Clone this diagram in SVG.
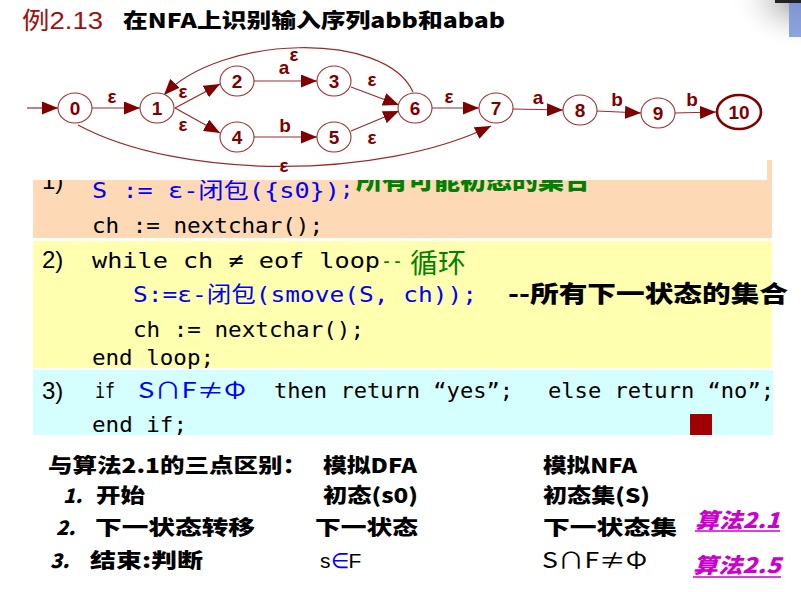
<svg xmlns="http://www.w3.org/2000/svg" width="801" height="592" viewBox="0 0 801 592">
<defs>
<marker id="ah" markerUnits="userSpaceOnUse" markerWidth="17" markerHeight="13" refX="16" refY="6.5" orient="auto">
<path d="M0,0 L16,6.5 L0,13 z" fill="#800000"/>
</marker>
<radialGradient id="sh" cx="1" cy="0" r="1">
<stop offset="0" stop-color="#9a9a9a"/>
<stop offset="1" stop-color="#ffffff" stop-opacity="0"/>
</radialGradient>
<style>
.node ellipse{fill:#fff;stroke:#a03030;stroke-width:1.1}
.node text{font-family:"Liberation Sans",Arial,sans-serif;font-weight:bold;font-size:19px;fill:#800000;text-anchor:middle}
.edge{fill:none;stroke:#9a2a2a;stroke-width:1.2;marker-end:url(#ah)}
.lbl{font-family:"Liberation Sans",Arial,sans-serif;font-weight:bold;font-size:19px;fill:#800000;text-anchor:middle}
.code{font-family:"DejaVu Sans Mono","Noto Sans CJK SC",monospace;font-size:22px}
.num{font-family:"Liberation Sans",Arial,sans-serif;font-size:24px;fill:#000}
.cjkb{font-family:"Noto Sans CJK SC",sans-serif;font-weight:900}
.low{font-family:"Noto Sans CJK SC",sans-serif;font-weight:900;font-size:20px;fill:#000}
.lat{font-family:"Liberation Sans",Arial,sans-serif;font-size:21px;fill:#000}
.sym{font-family:"Noto Sans CJK SC",sans-serif;font-size:22px}
.blue{fill:#0000ff}
.green{fill:#008000}
.mag{font-family:"Noto Sans CJK SC",sans-serif;font-weight:900;font-size:21px;fill:#cc00cc;font-style:italic}
</style>
</defs>
<rect width="801" height="592" fill="#fff"/>
<!-- corner logo fragment -->
<rect x="730" y="0" width="71" height="50" fill="url(#sh)"/>
<rect x="775" y="0" width="26" height="3" fill="#222"/>
<rect x="789" y="3" width="12" height="34" fill="#6f8fd8" opacity="0.8"/>
<!-- title -->
<text x="22" y="29" font-family="Liberation Sans,'Noto Sans CJK SC',sans-serif" font-size="24" fill="#a01010" textLength="81" lengthAdjust="spacingAndGlyphs">例2.13</text>
<text x="123" y="28" class="cjkb" font-size="20" textLength="382" lengthAdjust="spacingAndGlyphs">在NFA上识别输入序列abb和abab</text>
<!-- code boxes -->
<rect x="33" y="160" width="739" height="78" fill="#fdd9b5"/>
<rect x="33" y="241" width="739" height="127" fill="#ffffb0"/>
<rect x="33" y="370" width="740" height="65" fill="#d5ffff"/>
<rect x="690" y="414" width="22" height="21" fill="#a00000"/>
<g id="code">
<text x="42" y="189" class="num">1)</text>
<text x="92" y="198" class="code blue" font-size="23" textLength="248" lengthAdjust="spacingAndGlyphs">S :=  ε-闭包({s0})</text>
<text x="340" y="196" class="code blue">;</text>
<text x="356" y="189" class="cjkb green" font-size="24" textLength="234" lengthAdjust="spacingAndGlyphs">所有可能初态的集合</text>
<text x="92" y="233" class="code" textLength="231" lengthAdjust="spacingAndGlyphs">ch := nextchar();</text>
<text x="42" y="268" class="num">2)</text>
<text x="92" y="268" class="code" textLength="288" lengthAdjust="spacingAndGlyphs">while  ch ≠ eof loop</text>
<text x="381" y="268" class="code green" textLength="22" lengthAdjust="spacingAndGlyphs">--</text>
<text x="410" y="273" font-family="'Noto Sans CJK SC',sans-serif" font-size="27" class="green" textLength="56" lengthAdjust="spacingAndGlyphs">循环</text>
<text x="133" y="302" class="code blue" textLength="344" lengthAdjust="spacingAndGlyphs">S:=ε-闭包(smove(S, ch));</text>
<text x="508" y="302" class="cjkb" font-size="23" textLength="280" lengthAdjust="spacingAndGlyphs">--所有下一状态的集合</text>
<text x="133" y="337" class="code" textLength="231" lengthAdjust="spacingAndGlyphs">ch := nextchar();</text>
<text x="92" y="365" class="code" textLength="122" lengthAdjust="spacingAndGlyphs">end loop;</text>
<text x="42" y="399" class="num">3)</text>
<text x="95" y="398" class="code" textLength="20" lengthAdjust="spacingAndGlyphs">if</text>
<text x="138" y="398" class="sym blue" font-size="23" textLength="108" lengthAdjust="spacingAndGlyphs">S∩F≠Φ</text>
<text x="274" y="398" class="code" textLength="239" lengthAdjust="spacingAndGlyphs">then return “yes”;</text>
<text x="548" y="398" class="code" textLength="226" lengthAdjust="spacingAndGlyphs">else return “no”;</text>
<text x="92" y="432" class="code" textLength="95" lengthAdjust="spacingAndGlyphs">end if;</text>
</g>
<!-- white cover of NFA area -->
<rect x="0" y="40" width="767" height="140" fill="#fff"/>
<!-- NFA -->
<g id="connectors">
<path class="edge" d="M27 108 L58 108"/>
<path class="edge" d="M92 108 L140 108"/>
<path class="edge" d="M175 108 L220 84"/>
<path class="edge" d="M175 108 L220 133"/>
<path class="edge" d="M254 81 L317 81"/>
<path class="edge" d="M254 137 L317 137"/>
<path class="edge" d="M351 87 L399 105"/>
<path class="edge" d="M351 131 L399 111"/>
<path class="edge" d="M432 108 L479 108"/>
<path class="edge" d="M513 109 L563 110"/>
<path class="edge" d="M597 111 L641 113"/>
<path class="edge" d="M675 113 L716 112"/>
<path class="edge" d="M413 92 C385 30, 220 35, 164 95"/>
<path class="edge" d="M78 125 C180 180, 380 180, 491 126"/>
<text class="lbl" x="112" y="103">ε</text>
<text class="lbl" x="183" y="98">ε</text>
<text class="lbl" x="183" y="131">ε</text>
<text class="lbl" x="284" y="74">a</text>
<text class="lbl" x="294" y="61">ε</text>
<text class="lbl" x="285" y="132">b</text>
<text class="lbl" x="372" y="86">ε</text>
<text class="lbl" x="372" y="144">ε</text>
<text class="lbl" x="449" y="103">ε</text>
<text class="lbl" x="284" y="172">ε</text>
<text class="lbl" x="538" y="104">a</text>
<text class="lbl" x="617" y="106">b</text>
<text class="lbl" x="692" y="106">b</text>
</g>
<g id="n0" class="node"><ellipse cx="75" cy="108" rx="17" ry="15"/><text x="75" y="115">0</text></g>
<g id="n1" class="node"><ellipse cx="157" cy="108" rx="17" ry="15"/><text x="157" y="115">1</text></g>
<g id="n2" class="node"><ellipse cx="237" cy="81" rx="17" ry="15"/><text x="237" y="88">2</text></g>
<g id="n3" class="node"><ellipse cx="334" cy="81" rx="17" ry="15"/><text x="334" y="88">3</text></g>
<g id="n4" class="node"><ellipse cx="237" cy="137" rx="17" ry="15"/><text x="237" y="144">4</text></g>
<g id="n5" class="node"><ellipse cx="334" cy="137" rx="17" ry="15"/><text x="334" y="144">5</text></g>
<g id="n6" class="node"><ellipse cx="415" cy="108" rx="17" ry="15"/><text x="415" y="115">6</text></g>
<g id="n7" class="node"><ellipse cx="496" cy="108" rx="17" ry="15"/><text x="496" y="115">7</text></g>
<g id="n8" class="node"><ellipse cx="580" cy="110" rx="17" ry="15"/><text x="580" y="117">8</text></g>
<g id="n9" class="node"><ellipse cx="658" cy="113" rx="17" ry="15"/><text x="658" y="120">9</text></g>
<g id="n10" class="node"><ellipse cx="739" cy="112" rx="22" ry="17" style="stroke:#800000;stroke-width:2.6"/><text x="739" y="119">10</text></g>
<!-- lower comparison -->
<g id="compare">
<text x="48" y="473" class="low" textLength="259" lengthAdjust="spacingAndGlyphs">与算法2.1的三点区别：</text>
<text x="323" y="473" class="low" textLength="94" lengthAdjust="spacingAndGlyphs">模拟DFA</text>
<text x="543" y="473" class="low" textLength="94" lengthAdjust="spacingAndGlyphs">模拟NFA</text>
<text x="63" y="503" class="low" font-style="italic">1.</text>
<text x="96" y="503" class="low" textLength="49" lengthAdjust="spacingAndGlyphs">开始</text>
<text x="323" y="503" class="low" textLength="95" lengthAdjust="spacingAndGlyphs">初态(s0)</text>
<text x="543" y="503" class="low" textLength="107" lengthAdjust="spacingAndGlyphs">初态集(S)</text>
<text x="56" y="535" class="low" font-style="italic">2.</text>
<text x="95" y="535" class="low" textLength="160" lengthAdjust="spacingAndGlyphs">下一状态转移</text>
<text x="315" y="535" class="low" textLength="103" lengthAdjust="spacingAndGlyphs">下一状态</text>
<text x="543" y="535" class="low" textLength="134" lengthAdjust="spacingAndGlyphs">下一状态集</text>
<text x="50" y="568" class="low" font-style="italic">3.</text>
<text x="90" y="568" class="low" textLength="113" lengthAdjust="spacingAndGlyphs">结束:判断</text>
<text x="320" y="568" class="lat" font-size="22">s<tspan class="blue">∈</tspan>F</text>
<text x="542" y="568" class="sym" textLength="105" lengthAdjust="spacingAndGlyphs">S∩F≠Φ</text>
<text x="695" y="528" class="mag" textLength="85" lengthAdjust="spacingAndGlyphs">算法2.1</text>
<line x1="695" y1="531" x2="780" y2="531" stroke="#cc00cc" stroke-width="1.5"/>
<text x="693" y="573" class="mag" textLength="88" lengthAdjust="spacingAndGlyphs">算法2.5</text>
<line x1="693" y1="577" x2="781" y2="577" stroke="#cc00cc" stroke-width="1.5"/>
</g>
</svg>
